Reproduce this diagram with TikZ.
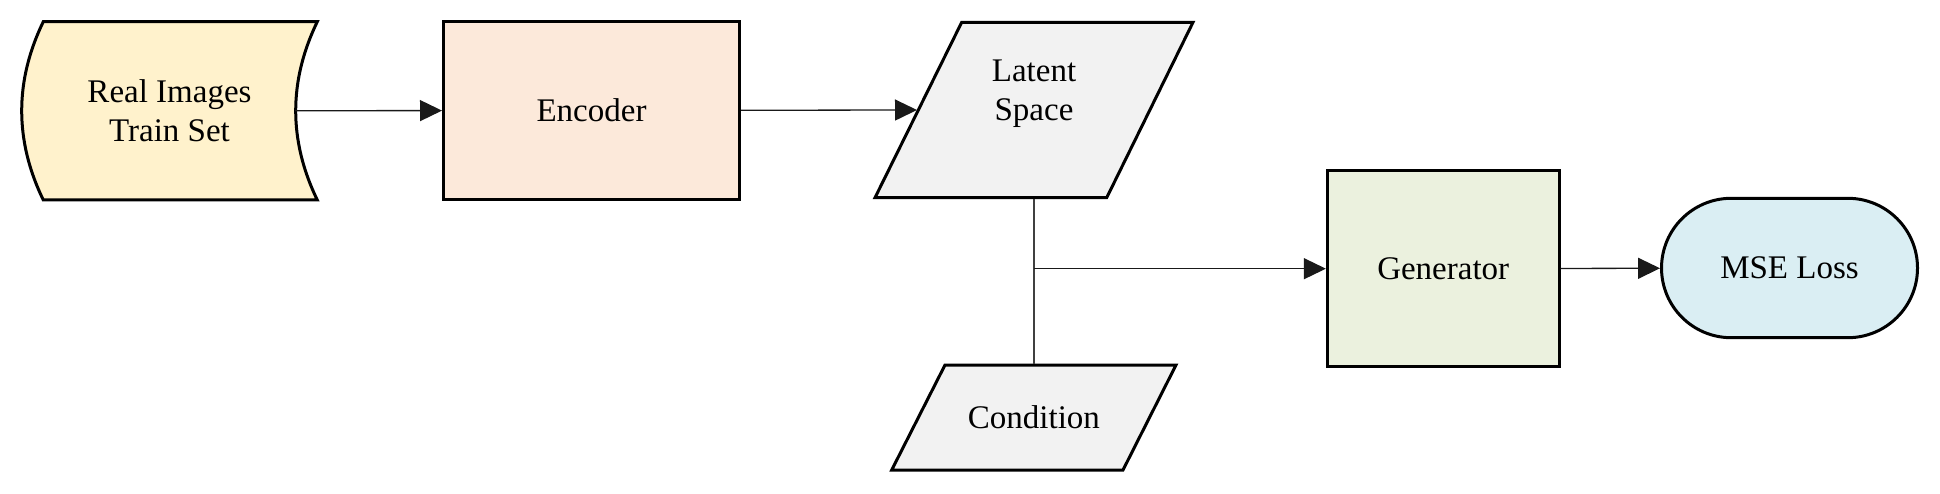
\documentclass[tikz,border=0pt]{standalone}
\usepackage{fontspec}
\setmainfont{Liberation Serif}
\usetikzlibrary{arrows.meta,shapes.misc}
\definecolor{cReal}{HTML}{FFF2CC}
\definecolor{cEnc}{HTML}{FCE9DA}
\definecolor{cLat}{HTML}{F2F2F2}
\definecolor{cGen}{HTML}{EBF1DE}
\definecolor{cMse}{HTML}{DAEEF3}
\tikzset{
  box/.style={draw=black, line width=3pt, inner sep=0pt, align=center,
    font=\fontsize{33}{38.5}\selectfont},
  shapeline/.style={draw=black, line width=3pt},
  txt/.style={inner sep=0pt, align=center, font=\fontsize{33}{38.5}\selectfont},
  conn/.style={line width=1.3pt, draw=black!90, -{Triangle[length=22pt,width=21pt]}},
  plain/.style={line width=1.2pt, draw=black!75}
}
\begin{document}
\begin{tikzpicture}[x=1pt,y=-1pt]
\useasboundingbox (0,0) rectangle (1940,494);
% Real Images (stored data shape)
\path[shapeline, fill=cReal] (43.3,21.7) -- (317.3,21.7)
  .. controls (288.5,81.1) and (288.5,140.6) .. (317.3,200) -- (43.3,200)
  .. controls (14.5,140.6) and (14.5,81.1) .. (43.3,21.7) -- cycle;
\node[txt, minimum width=251pt, minimum height=178pt] (ri) at (169.5,110.8) {Real Images\\Train Set};
% Encoder
\node[box, fill=cEnc, minimum width=296pt, minimum height=177.6pt] (enc) at (591.5,110.5) {Encoder};
% Latent Space (parallelogram)
\path[shapeline, fill=cLat] (961.7,22.3) -- (1193,22.3) -- (1106.7,197.7) -- (875,197.7) -- cycle;
\node[txt] (lat) at (1034,93.5) {Latent\\Space};
\coordinate (latW) at (917,110);
\coordinate (latS) at (1034,199);
% Condition (parallelogram)
\path[shapeline, fill=cLat] (945,365) -- (1176,365) -- (1123,470) -- (891.7,470) -- cycle;
\node[txt] (cond) at (1033.9,417.5) {Condition};
\coordinate (condN) at (1034,363.5);
% Generator
\node[box, fill=cGen, minimum width=231.7pt, minimum height=196pt] (gen) at (1443.2,268.7) {Generator};
% MSE Loss
\node[box, rounded rectangle, fill=cMse, minimum width=256pt, minimum height=139.4pt] (mse) at (1789.5,268) {MSE Loss};
% connectors
\draw[conn] (ri) -- (enc);
\draw[conn] (enc) -- (latW);
\draw[plain] (latS) -- (condN);
\coordinate (j) at (latS |- gen.west);
\draw[conn] (j) -- (gen);
\draw[conn] (gen) -- (mse);
\end{tikzpicture}
\end{document}
